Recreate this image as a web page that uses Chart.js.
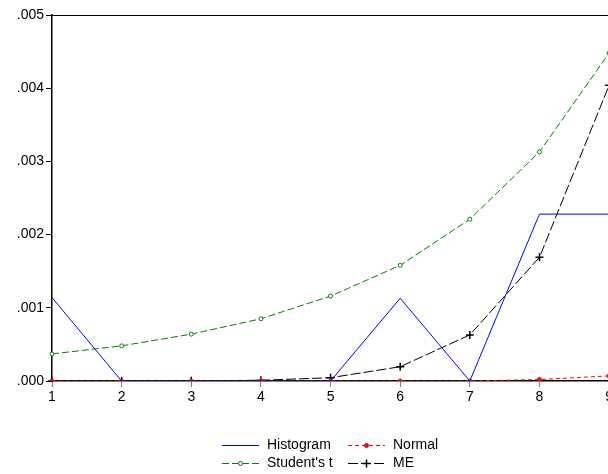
<!DOCTYPE html>
<html>
<head>
<meta charset="utf-8">
<script src="https://cdn.jsdelivr.net/npm/chart.js@4.4.0/dist/chart.umd.min.js"></script>
<style>
    html, body { margin: 0; padding: 0; background: #fff; overflow: hidden; }
    #clip { width: 608px; height: 474px; overflow: hidden; }
    #wrap { width: 615px; height: 474px; position: relative; }
</style>
</head>
<body>
<div id="clip"><div id="wrap"><canvas id="chart"></canvas></div></div>
<script>
// --------------------------------------------
// Dados
// --------------------------------------------
const categories = ['1', '2', '3', '4', '5', '6', '7', '8', '9'];
const yTicks = [0, 0.001, 0.002, 0.003, 0.004, 0.005];

const histogram = [0.00114, 0, 0, 0, 0, 0.00113, 0, 0.00228, 0.00228];
const normal    = [0, 0, 0, 0, 0, 0, 0, 0.00002, 0.00007];
const studentT  = [0.00037, 0.00048, 0.00064, 0.00085, 0.00116, 0.00158, 0.00221, 0.00313, 0.00448];
const me        = [0, 0, 0.000003, 0.00001, 0.000045, 0.000195, 0.00063, 0.00169, 0.00404];

const FONT = 'Liberation Sans, Arial, sans-serif';

// ------------------------------------------
// Desenha marcador de ponto (legenda)
// ------------------------------------------
function drawMarker(ctx, ds, x, y) {
    const r = ds.pointRadius;
    if (!r) return;
    ctx.save();
    ctx.setLineDash([]);
    ctx.strokeStyle = ds.pointBorderColor;
    ctx.fillStyle = ds.pointBackgroundColor;
    ctx.lineWidth = ds.pointBorderWidth || 1;
    if (ds.pointStyle === 'cross') {
        ctx.beginPath();
        ctx.moveTo(x - r, y); ctx.lineTo(x + r, y);
        ctx.moveTo(x, y - r); ctx.lineTo(x, y + r);
        ctx.stroke();
    } else {
        ctx.beginPath();
        ctx.arc(x, y, r, 0, Math.PI * 2);
        ctx.fill();
        ctx.stroke();
    }
    ctx.restore();
}

// ------------------------------------------
// Plugin: borda superior + legenda em 2 colunas
// ------------------------------------------
const framePlugin = {
    id: 'frame',
    afterDraw(chart) {
        const { ctx, chartArea } = chart;
        ctx.save();
        ctx.strokeStyle = '#000';
        ctx.lineWidth = 1;
        ctx.beginPath();
        ctx.moveTo(chartArea.left, chartArea.top + 0.5);
        ctx.lineTo(chartArea.right + 10, chartArea.top + 0.5);
        ctx.stroke();

        const slots = [
            { i: 0, x: 222, y: 445 },
            { i: 1, x: 348, y: 445 },
            { i: 2, x: 222, y: 463 },
            { i: 3, x: 348, y: 463 }
        ];
        ctx.font = '14px ' + FONT;
        ctx.textBaseline = 'middle';
        slots.forEach(s => {
            const ds = chart.data.datasets[s.i];
            ctx.save();
            ctx.strokeStyle = ds.borderColor;
            ctx.lineWidth = ds.borderWidth;
            ctx.setLineDash(ds.borderDash || []);
            ctx.beginPath();
            ctx.moveTo(s.x, s.y + 0.5);
            ctx.lineTo(s.x + 37, s.y + 0.5);
            ctx.stroke();
            ctx.restore();
            drawMarker(ctx, ds, s.x + 18.5, s.y + 0.5);
            ctx.fillStyle = '#000';
            ctx.fillText(ds.label, s.x + 45, s.y);
        });
        ctx.restore();
    }
};

new Chart(document.getElementById('chart'), {
    type: 'line',
    data: {
        labels: categories,
        datasets: [
            {
                label: 'Histogram',
                data: histogram,
                borderColor: '#0000ff',
                borderWidth: 1,
                pointRadius: 0
            },
            {
                label: 'Normal',
                data: normal,
                borderColor: '#ff0000',
                borderWidth: 1,
                borderDash: [4, 3],
                pointRadius: 2,
                pointStyle: 'circle',
                pointBackgroundColor: '#ff0000',
                pointBorderColor: '#ff0000'
            },
            {
                label: "Student's t",
                data: studentT,
                borderColor: '#008000',
                borderWidth: 1,
                borderDash: [7, 3],
                pointRadius: 2,
                pointStyle: 'circle',
                pointBackgroundColor: '#ffffff',
                pointBorderColor: '#008000'
            },
            {
                label: 'ME',
                data: me,
                borderColor: '#000000',
                borderWidth: 1,
                borderDash: [10, 3],
                pointRadius: 4,
                pointStyle: 'cross',
                pointBorderColor: '#000000',
                pointBorderWidth: 1.5
            }
        ]
    },
    options: {
        responsive: true,
        maintainAspectRatio: false,
        animation: false,
        layout: { padding: { top: 15, right: 0, left: 0, bottom: 0 } },
        plugins: {
            legend: { display: false },
            tooltip: { enabled: false }
        },
        elements: { line: { tension: 0 } },
        scales: {
            x: {
                offset: false,
                afterFit: s => { s.height = 93; },
                grid: {
                    drawOnChartArea: false,
                    drawTicks: true,
                    tickLength: 6,
                    color: '#808080'
                },
                border: { color: '#000', width: 1.5 },
                ticks: {
                    color: '#000',
                    padding: 2,
                    maxRotation: 0,
                    font: { family: FONT, size: 14 }
                }
            },
            y: {
                min: 0,
                max: 0.005,
                afterFit: s => { s.width = 52; },
                afterBuildTicks: s => { s.ticks = yTicks.map(v => ({ value: v })); },
                grid: {
                    drawOnChartArea: false,
                    drawTicks: true,
                    tickLength: 6,
                    color: '#000'
                },
                border: { color: '#000', width: 1.5 },
                ticks: {
                    color: '#000',
                    padding: 2,
                    font: { family: FONT, size: 14 },
                    callback: v => v.toFixed(3).replace(/^0/, '')
                }
            }
        }
    },
    plugins: [framePlugin]
});
</script>
</body>
</html>
